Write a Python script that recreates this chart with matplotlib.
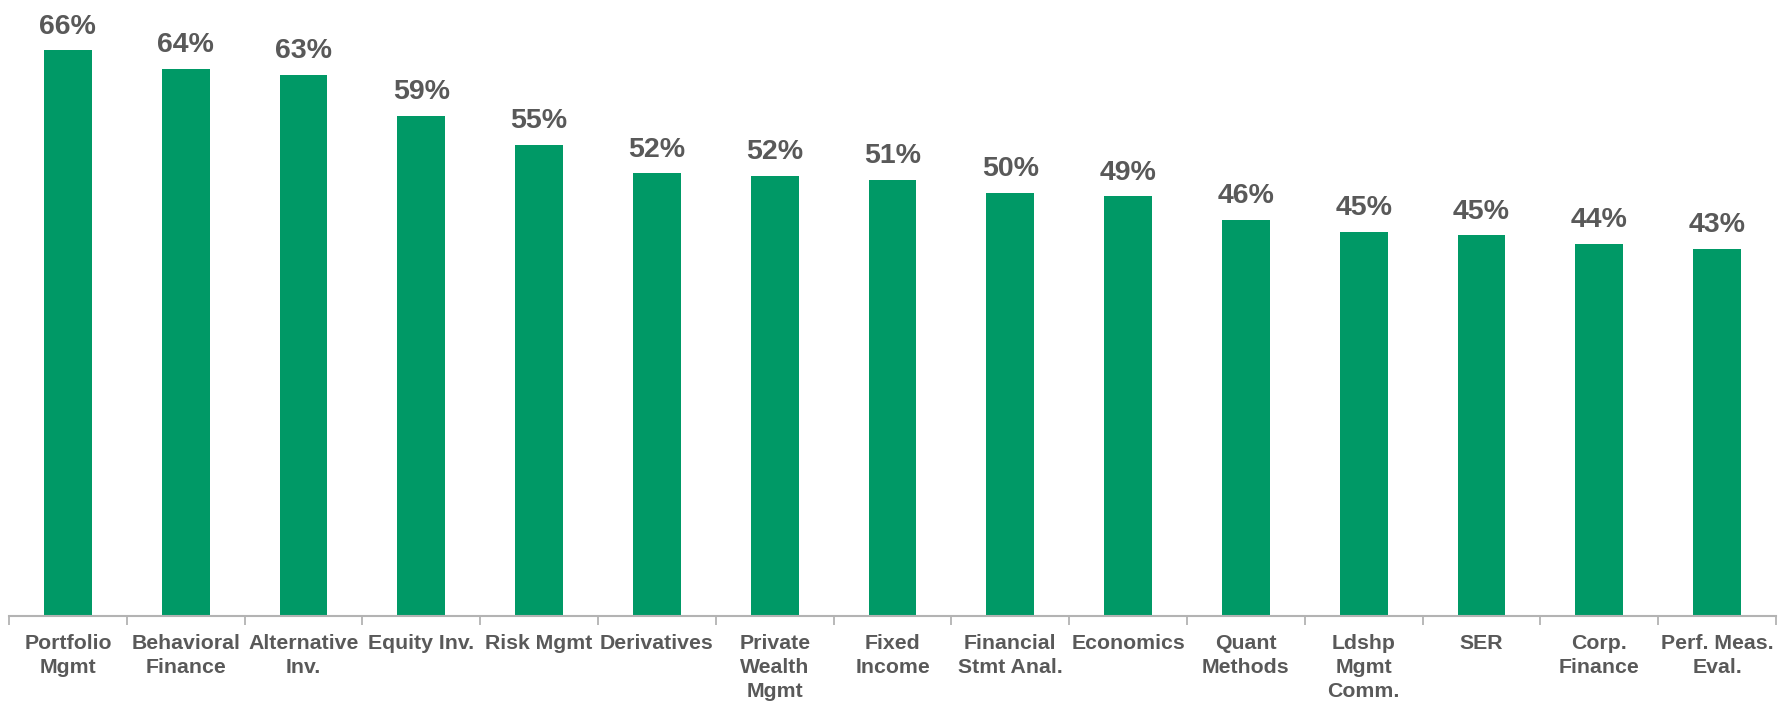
import matplotlib
matplotlib.use("Agg")
import matplotlib.pyplot as plt
import numpy as np

categories = [
    "Portfolio\nMgmt", "Behavioral\nFinance", "Alternative\nInv.", "Equity Inv.",
    "Risk Mgmt", "Derivatives", "Private\nWealth\nMgmt", "Fixed\nIncome",
    "Financial\nStmt Anal.", "Economics", "Quant\nMethods", "Ldshp\nMgmt\nComm.",
    "SER", "Corp.\nFinance", "Perf. Meas.\nEval.",
]
shares = [66.3, 64.1, 63.4, 58.6, 55.2, 51.9, 51.6, 51.1, 49.6, 49.2,
          46.4, 45.0, 44.6, 43.6, 43.0]

BAR_COLOR = "#009966"
TEXT_COLOR = "#595959"
AXIS_COLOR = "#B3B3B3"

plt.rcParams["font.family"] = ["Liberation Sans", "DejaVu Sans"]

fig = plt.figure(figsize=(17.85, 7.01), dpi=100)
ax = fig.add_axes([9 / 1785, 85 / 701, (1776 - 9) / 1785, 616 / 701])

x = np.arange(len(categories))
bars = ax.bar(x, shares, width=0.406, color=BAR_COLOR, zorder=2)

for rect, v in zip(bars, shares):
    ax.annotate(f"{v:.0f}%", (rect.get_x() + rect.get_width() / 2, v),
                xytext=(0, 12), textcoords="offset points",
                ha="center", va="baseline", fontsize=20.5, fontweight="bold",
                color=TEXT_COLOR, annotation_clip=False)

ax.set_xlim(-0.5, len(categories) - 0.5)
ax.set_ylim(0, 72.2)

for side in ("top", "right", "left"):
    ax.spines[side].set_visible(False)
ax.spines["bottom"].set_color(AXIS_COLOR)
ax.spines["bottom"].set_linewidth(1.5)
ax.set_yticks([])

ax.set_xticks(x)
ax.set_xticklabels(categories, fontsize=15.3, fontweight="bold", color=TEXT_COLOR,
                   linespacing=1.32)
ax.tick_params(axis="x", which="major", length=0, pad=13)
ax.set_xticks(np.arange(-0.5, len(categories), 1.0), minor=True)
ax.tick_params(axis="x", which="minor", length=6.5, width=1.3, color=AXIS_COLOR,
               direction="out")

fig.savefig("out.png", dpi=100)
